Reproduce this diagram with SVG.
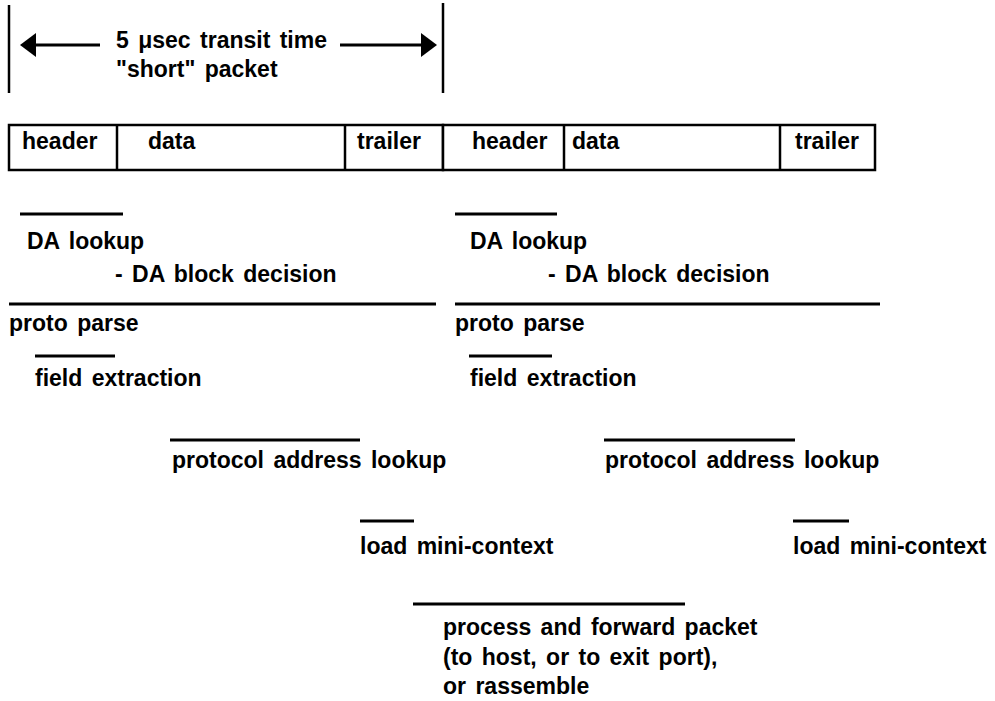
<svg xmlns="http://www.w3.org/2000/svg" width="995" height="701" viewBox="0 0 995 701">
<style>
text { font-family: "Liberation Sans", Arial, sans-serif; font-weight: bold; font-size: 23px; fill: #000; letter-spacing: 0px; word-spacing: 3px; }
.bar { stroke: #000; stroke-width: 3; fill: none; }
.thin { stroke: #000; stroke-width: 2.5; fill: none; }
.box { stroke: #000; stroke-width: 2.5; fill: #fff; }
</style>
<rect width="995" height="701" fill="#fff"/>
<g id="timing">
  <line class="thin" x1="9" y1="5" x2="9" y2="93"/>
  <line class="thin" x1="443" y1="3" x2="443" y2="93"/>
  <line class="bar" x1="34" y1="45" x2="100" y2="45"/>
  <polygon points="20,45 36,33 36,57" fill="#000"/>
  <line class="bar" x1="340" y1="45" x2="422" y2="45"/>
  <polygon points="437,45 421,33 421,57" fill="#000"/>
  <text x="116" y="48">5 μsec transit time</text>
  <text x="116" y="77">"short" packet</text>
</g>
<g id="packet1">
  <rect class="box" x="9" y="125" width="434" height="45"/>
  <line class="thin" x1="117" y1="125" x2="117" y2="170"/>
  <line class="thin" x1="345" y1="125" x2="345" y2="170"/>
  <text x="22" y="149">header</text>
  <text x="148" y="149">data</text>
  <text x="357" y="149">trailer</text>
</g>
<g id="packet2">
  <rect class="box" x="443" y="125" width="432" height="45"/>
  <line class="thin" x1="564" y1="125" x2="564" y2="170"/>
  <line class="thin" x1="780" y1="125" x2="780" y2="170"/>
  <text x="472" y="149">header</text>
  <text x="572" y="149">data</text>
  <text x="795" y="149">trailer</text>
</g>
<g id="connectors">
  <line class="bar" x1="20" y1="214" x2="123" y2="214"/>
  <line class="bar" x1="9" y1="304" x2="436" y2="304"/>
  <line class="bar" x1="35" y1="356" x2="115" y2="356"/>
  <line class="bar" x1="170" y1="440" x2="360" y2="440"/>
  <line class="bar" x1="360" y1="521" x2="414" y2="521"/>
  <line class="bar" x1="413" y1="604" x2="685" y2="604"/>
  <line class="bar" x1="455" y1="214" x2="557" y2="214"/>
  <line class="bar" x1="455" y1="304" x2="880" y2="304"/>
  <line class="bar" x1="469" y1="356" x2="552" y2="356"/>
  <line class="bar" x1="604" y1="440" x2="795" y2="440"/>
  <line class="bar" x1="793" y1="521" x2="849" y2="521"/>
</g>
<g id="stage1-left">
  <text x="27" y="249">DA lookup</text>
  <text x="115" y="282">- DA block decision</text>
</g>
<g id="stage2-left">
  <text x="9" y="331">proto parse</text>
  <text x="35" y="386">field extraction</text>
</g>
<g id="stage3-left">
  <text x="172" y="468">protocol address lookup</text>
</g>
<g id="stage4-left">
  <text x="360" y="554">load mini-context</text>
</g>
<g id="stage5">
  <text x="443" y="635">process and forward packet</text>
  <text x="443" y="665">(to host, or to exit port),</text>
  <text x="443" y="694">or rassemble</text>
</g>
<g id="stage1-right">
  <text x="470" y="249">DA lookup</text>
  <text x="548" y="282">- DA block decision</text>
</g>
<g id="stage2-right">
  <text x="455" y="331">proto parse</text>
  <text x="470" y="386">field extraction</text>
</g>
<g id="stage3-right">
  <text x="605" y="468">protocol address lookup</text>
</g>
<g id="stage4-right">
  <text x="793" y="554">load mini-context</text>
</g>
</svg>
